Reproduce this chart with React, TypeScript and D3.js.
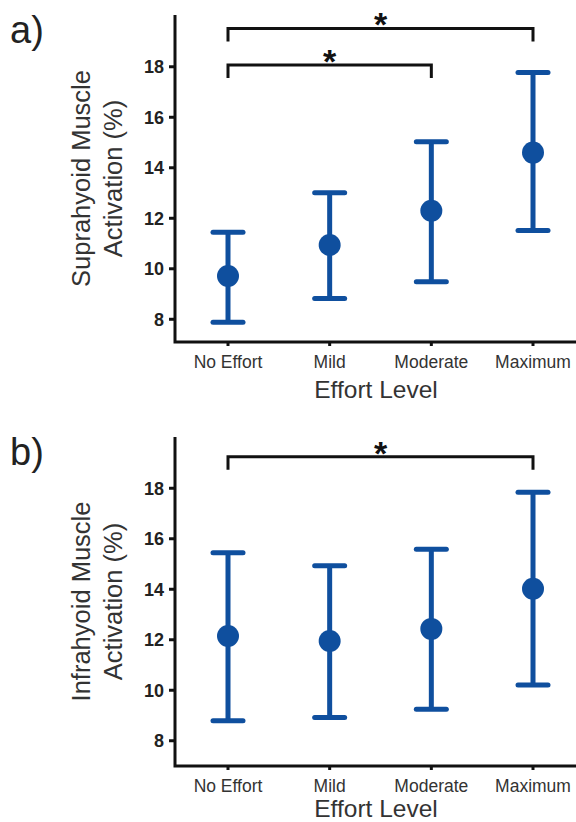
import React from 'react';
import * as d3 from 'd3';

const categories = ['No Effort', 'Mild', 'Moderate', 'Maximum'];
const yTicks = [8, 10, 12, 14, 16, 18];

// a) suprahyoid
const supraMean = [9.71, 10.94, 12.3, 14.6];
const supraLow = [7.88, 8.82, 9.49, 11.52];
const supraHigh = [11.45, 13.01, 15.03, 17.77];
// brackets: [from, to, level]
const supraSig = [
  [0, 3, 19.52],
  [0, 2, 18.07],
];

// b) infrahyoid
const infraMean = [12.15, 11.95, 12.43, 14.02];
const infraLow = [8.79, 8.92, 9.25, 10.21];
const infraHigh = [15.45, 14.93, 15.58, 17.84];
const infraSig = [[0, 3, 19.25]];

const BLUE = '#0f4f9e';
const FONT = '"Liberation Sans", Arial, Helvetica, sans-serif';

type PanelProps = {
  top: number;
  bottom: number;
  domain: [number, number];
  letter: string;
  title: string;
  mean: number[];
  low: number[];
  high: number[];
  sig: number[][];
};

const Panel = ({ top, bottom, domain, letter, title, mean, low, high, sig }: PanelProps) => {
  const axisX = 175;
  const x = d3.scalePoint().domain(categories).range([228, 533]);
  const y = d3.scaleLinear().domain(domain).range([bottom, top]);
  const mid = (top + bottom) / 2;
  const capW = 15;
  const drop = 13;

  return (
    <g>
      <text x={10} y={top + 28} fontFamily={FONT} fontSize={38} fill="#222">
        {letter}
      </text>

      {/* y title */}
      <text
        transform={`translate(90,${mid}) rotate(-90)`}
        textAnchor="middle"
        fontFamily={FONT}
        fontSize={25.5}
        fill="#333"
      >
        {title}
      </text>
      <text
        transform={`translate(122,${mid}) rotate(-90)`}
        textAnchor="middle"
        fontFamily={FONT}
        fontSize={25.5}
        fill="#333"
      >
        Activation (%)
      </text>

      {/* axes */}
      <path
        d={`M${axisX},${top} V${bottom} H576`}
        fill="none"
        stroke="#111"
        strokeWidth={3}
      />
      {yTicks.map((t) => (
        <g key={t}>
          <line x1={axisX - 6} x2={axisX} y1={y(t)} y2={y(t)} stroke="#111" strokeWidth={3} />
          <text
            x={axisX - 11}
            y={y(t)}
            dy="0.36em"
            textAnchor="end"
            fontFamily={FONT}
            fontWeight={700}
            fontSize={18}
            fill="#222"
          >
            {t}
          </text>
        </g>
      ))}
      {categories.map((c) => (
        <g key={c}>
          <line x1={x(c)} x2={x(c)} y1={bottom} y2={bottom + 4} stroke="#111" strokeWidth={3} />
          <text
            x={x(c)}
            y={bottom + 26}
            textAnchor="middle"
            fontFamily={FONT}
            fontSize={17.5}
            fill="#333"
          >
            {c}
          </text>
        </g>
      ))}
      <text
        x={376}
        y={Math.min(bottom + 56, 817)}
        textAnchor="middle"
        fontFamily={FONT}
        fontSize={24.5}
        fill="#333"
      >
        Effort Level
      </text>

      {/* error bars */}
      {categories.map((c, i) => {
        const cx = x(c) as number;
        return (
          <g key={c} stroke={BLUE} strokeWidth={5}>
            <line x1={cx} x2={cx} y1={y(low[i])} y2={y(high[i])} />
            <line x1={cx - capW} x2={cx + capW} y1={y(low[i])} y2={y(low[i])} strokeLinecap="round" />
            <line x1={cx - capW} x2={cx + capW} y1={y(high[i])} y2={y(high[i])} strokeLinecap="round" />
            <circle cx={cx} cy={y(mean[i])} r={11} fill={BLUE} stroke="none" />
          </g>
        );
      })}

      {/* significance brackets */}
      {sig.map(([a, b, lvl], k) => {
        const x1 = x(categories[a]) as number;
        const x2 = x(categories[b]) as number;
        const yy = y(lvl);
        return (
          <g key={k}>
            <path
              d={`M${x1},${yy + drop} V${yy} H${x2} V${yy + drop}`}
              fill="none"
              stroke="#111"
              strokeWidth={3}
            />
            <text
              x={(x1 + x2) / 2}
              y={yy + 8}
              textAnchor="middle"
              fontFamily={FONT}
              fontWeight={700}
              fontSize={34}
              fill="#111"
            >
              *
            </text>
          </g>
        );
      })}
    </g>
  );
};

export default function App() {
  return (
    <svg
      width={576}
      height={822}
      style={{ position: 'absolute', left: 0, top: 0, background: '#fff' }}
    >
      <rect width={576} height={822} fill="#fff" />
      <Panel
        top={15}
        bottom={342}
        domain={[7.1, 20.05]}
        letter="a)"
        title="Suprahyoid Muscle"
        mean={supraMean}
        low={supraLow}
        high={supraHigh}
        sig={supraSig}
      />
      <Panel
        top={437}
        bottom={766}
        domain={[7.0, 20.03]}
        letter="b)"
        title="Infrahyoid Muscle"
        mean={infraMean}
        low={infraLow}
        high={infraHigh}
        sig={infraSig}
      />
    </svg>
  );
}
